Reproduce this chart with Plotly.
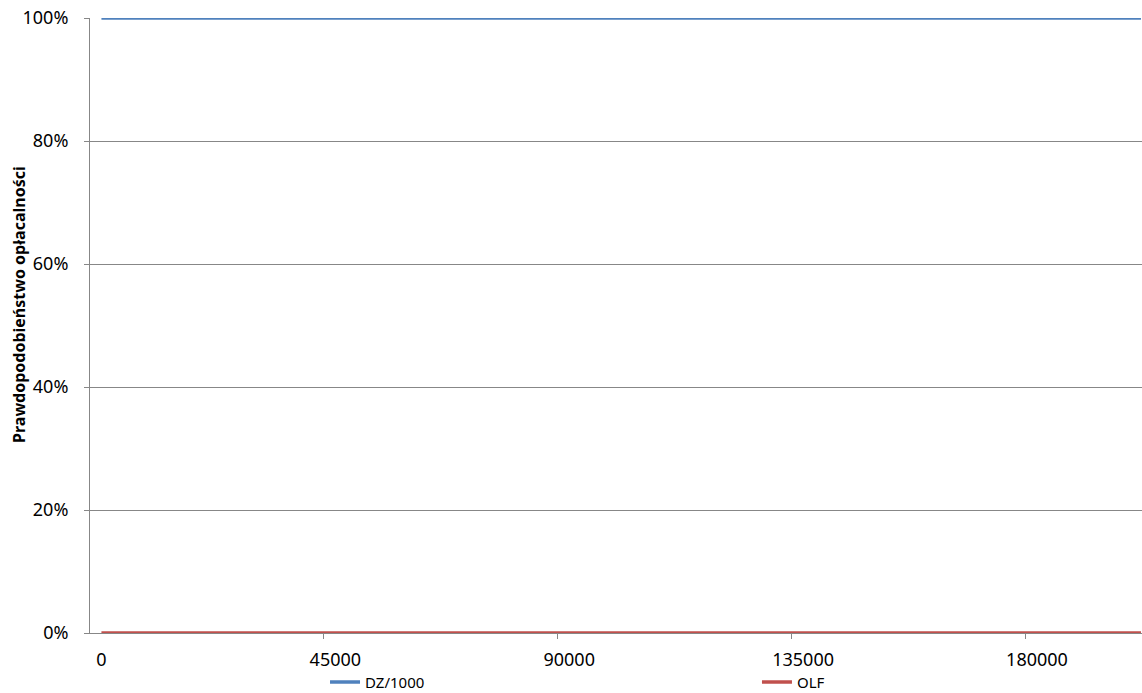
import plotly.graph_objects as go

x_vals = [0, 45000, 90000, 135000, 180000, 200000]
dz_1000 = [1.0, 1.0, 1.0, 1.0, 1.0, 1.0]
olf = [0.0, 0.0, 0.0, 0.0, 0.0, 0.0]
x_labels = [0, 45000, 90000, 135000, 180000]
x_tick_marks = [-2250, 42750, 87750, 132750, 177750]
y_ticks = [0, 0.2, 0.4, 0.6, 0.8, 1.0]
y_title = "Prawdopodobieństwo opłacalności"

x_range = [-2200, 200200]
font_family = "'Noto Sans', 'Open Sans', sans-serif"
axis_gray = "#878787"

fig = go.Figure()
fig.add_trace(go.Scatter(x=x_vals, y=dz_1000, mode="lines", name="DZ/1000",
                         line=dict(color="#4F81BD", width=3.5), cliponaxis=False,
                         legend="legend"))
fig.add_trace(go.Scatter(x=x_vals, y=olf, mode="lines", name="OLF",
                         line=dict(color="#C0504D", width=3.5), cliponaxis=False,
                         legend="legend2"))
# invisible trace to activate the label axis
fig.add_trace(go.Scatter(x=[x_labels[0]], y=[0], xaxis="x2", mode="markers",
                         marker=dict(opacity=0), showlegend=False, hoverinfo="skip"))

leg_common = dict(orientation="h", yanchor="middle", y=-0.08, xanchor="left",
                  font=dict(size=15), bgcolor="rgba(0,0,0,0)")

fig.update_layout(
    width=1142, height=693,
    margin=dict(l=90, r=0, t=18, b=60, autoexpand=False),
    paper_bgcolor="white", plot_bgcolor="white",
    font=dict(family=font_family, size=18, color="black"),
    showlegend=True,
    legend=dict(x=0.2234, **leg_common),
    legend2=dict(x=0.634, **leg_common),
    xaxis=dict(range=x_range, tickvals=x_tick_marks,
               ticktext=["" for _ in x_tick_marks],
               showgrid=False, zeroline=False, showline=True,
               linecolor=axis_gray, linewidth=1, layer="below traces",
               ticks="outside", ticklen=5, tickcolor=axis_gray),
    xaxis2=dict(overlaying="x", range=x_range, autorange=False,
                side="bottom", anchor="y",
                tickmode="array", tickvals=x_labels,
                ticktext=[str(v) for v in x_labels],
                showgrid=False, zeroline=False, showline=False, ticks="",
                ticklabelstandoff=14, tickfont=dict(size=18)),
    yaxis=dict(range=[0, 1], tickvals=y_ticks, tickformat=".0%",
               showgrid=True, gridcolor=axis_gray, gridwidth=1,
               zeroline=False, showline=True, linecolor=axis_gray, linewidth=1,
               layer="below traces",
               ticks="outside", ticklen=5, tickcolor=axis_gray,
               ticklabelstandoff=12, tickfont=dict(size=18)),
    annotations=[dict(text="<b>" + y_title + "</b>", textangle=-90,
                      xref="paper", x=-0.0675, xanchor="center",
                      yref="paper", y=0.535, yanchor="middle",
                      showarrow=False, font=dict(size=16))],
)

fig.write_html("out.html")
